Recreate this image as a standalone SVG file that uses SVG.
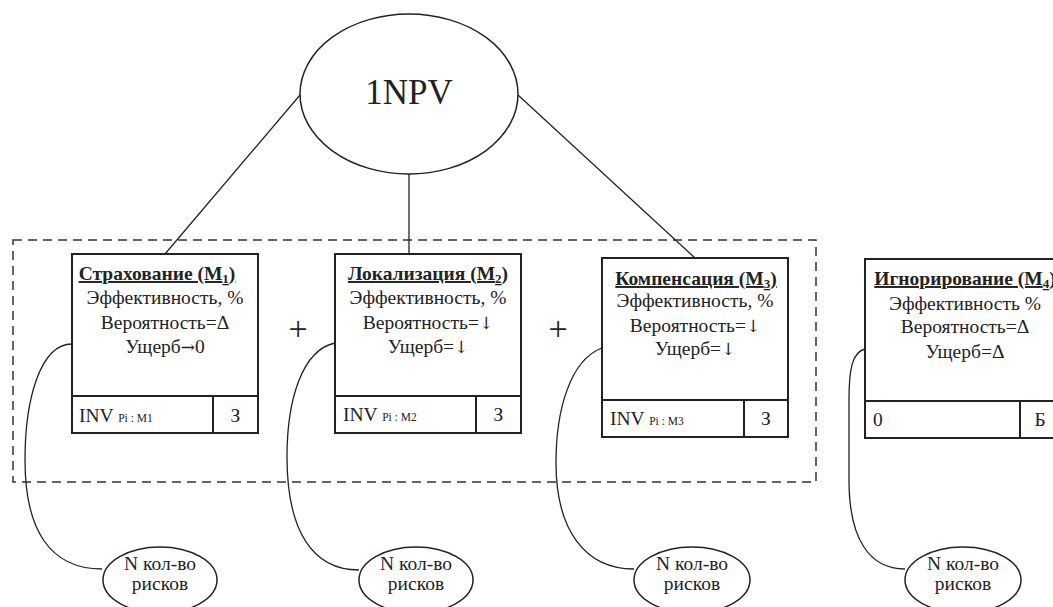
<svg xmlns="http://www.w3.org/2000/svg" width="1053" height="607" viewBox="0 0 1053 607">
<style>
text{font-family:"Liberation Serif","Times New Roman",serif;fill:#222;}
.box{fill:#fff;stroke:#222;stroke-width:2;}
.div{stroke:#222;stroke-width:2;fill:none;}
.ln{stroke:#222;stroke-width:1.3;fill:none;}
.dash{fill:none;stroke:#333;stroke-width:1.5;stroke-dasharray:9 6;}
.t{font-size:19.5px;text-anchor:middle;}
.h{font-size:19.5px;font-weight:bold;text-anchor:middle;text-decoration:underline;}
.s{font-size:11.5px;}
.b{font-size:19.5px;}
.c{font-size:19.5px;text-anchor:middle;}
.plus{font-size:34px;text-anchor:middle;}
.ar{font-family:"DejaVu Serif",serif;font-size:17px;}
.el{fill:#fff;stroke:#222;stroke-width:1.5;}
</style>
<rect width="1053" height="607" fill="#fff"/>
<rect class="dash" x="13" y="240" width="803" height="242"/>
<g id="connectors">
<line class="ln" x1="300" y1="95" x2="165" y2="254"/>
<line class="ln" x1="409" y1="174" x2="409" y2="254"/>
<line class="ln" x1="518" y1="95" x2="695" y2="258"/>
<path class="ln" d="M72,344 C40,344 25,400 25,460 C25,530 50,569 102,569"/>
<path class="ln" d="M335,343 C302,350 287,400 287,457 C287,530 312,570 359,570"/>
<path class="ln" d="M602,348 C570,360 556,410 556,463 C556,530 585,569 634,569"/>
<path class="ln" d="M865,349 C852,352 849,370 849,400 L849,480 C849,540 870,569 905,569"/>
</g>
<g id="root">
<ellipse class="el" cx="409" cy="94" rx="109" ry="80"/>
<text x="409" y="104" style="font-size:35px;text-anchor:middle">1NPV</text>
</g>
<g id="m1">
<rect class="box" x="72" y="254" width="186" height="179"/>
<line class="div" x1="72" y1="396" x2="258" y2="396"/>
<line class="div" x1="213" y1="396" x2="213" y2="433"/>
<text class="h" x="157" y="280">Страхование (M<tspan style="font-size:13px" baseline-shift="-3">1</tspan>)</text>
<text class="t" x="165" y="304">Эффективность, %</text>
<text class="t" x="165" y="329">Вероятность=Δ</text>
<text class="t" x="165" y="353">Ущерб<tspan class="ar">→</tspan>0</text>
<text class="b" x="79" y="422">INV <tspan class="s">Pi : M1</tspan></text>
<text class="c" x="235.5" y="422">З</text>
</g>
<g id="m2">
<rect class="box" x="335" y="254" width="186" height="179"/>
<line class="div" x1="335" y1="396" x2="521" y2="396"/>
<line class="div" x1="476" y1="396" x2="476" y2="433"/>
<text class="h" x="428" y="280">Локализация (M<tspan style="font-size:13px" baseline-shift="-3">2</tspan>)</text>
<text class="t" x="428" y="304">Эффективность, %</text>
<text class="t" x="428" y="329">Вероятность=<tspan class="ar">↓</tspan></text>
<text class="t" x="428" y="353">Ущерб=<tspan class="ar">↓</tspan></text>
<text class="b" x="343" y="421">INV <tspan class="s">Pi : M2</tspan></text>
<text class="c" x="498.5" y="421">З</text>
</g>
<g id="m3">
<rect class="box" x="602" y="258" width="186" height="179"/>
<line class="div" x1="602" y1="400" x2="788" y2="400"/>
<line class="div" x1="744" y1="400" x2="744" y2="437"/>
<text class="h" x="696" y="285">Компенсация (M<tspan style="font-size:13px" baseline-shift="-3">3</tspan>)</text>
<text class="t" x="695" y="307">Эффективность, %</text>
<text class="t" x="695" y="332">Вероятность=<tspan class="ar">↓</tspan></text>
<text class="t" x="695" y="355">Ущерб=<tspan class="ar">↓</tspan></text>
<text class="b" x="610" y="425">INV <tspan class="s">Pi : M3</tspan></text>
<text class="c" x="766" y="425">З</text>
</g>
<g id="m4">
<rect class="box" x="865" y="259" width="200" height="179"/>
<line class="div" x1="865" y1="401" x2="1065" y2="401"/>
<line class="div" x1="1020" y1="401" x2="1020" y2="438"/>
<text class="h" x="965" y="285">Игнорирование (M<tspan style="font-size:13px" baseline-shift="-3">4</tspan>)</text>
<text class="t" x="965" y="310">Эффективность %</text>
<text class="t" x="965" y="333">Вероятность=Δ</text>
<text class="t" x="965" y="358">Ущерб=Δ</text>
<text class="b" x="873" y="426">0</text>
<text class="c" x="1040" y="426">Б</text>
</g>
<g id="plus">
<text class="plus" x="298" y="340">+</text>
<text class="plus" x="558" y="340">+</text>
</g>
<g id="n1">
<ellipse class="el" cx="160" cy="580" rx="57" ry="33"/>
<text class="c" x="160" y="570">N кол-во</text>
<text class="c" x="160" y="590">рисков</text>
</g>
<g id="n2">
<ellipse class="el" cx="416" cy="580" rx="57" ry="33"/>
<text class="c" x="416" y="570">N кол-во</text>
<text class="c" x="416" y="590">рисков</text>
</g>
<g id="n3">
<ellipse class="el" cx="692" cy="580" rx="58" ry="33"/>
<text class="c" x="692" y="570">N кол-во</text>
<text class="c" x="692" y="590">рисков</text>
</g>
<g id="n4">
<ellipse class="el" cx="963" cy="580" rx="58" ry="33"/>
<text class="c" x="963" y="570">N кол-во</text>
<text class="c" x="963" y="590">рисков</text>
</g>
</svg>
